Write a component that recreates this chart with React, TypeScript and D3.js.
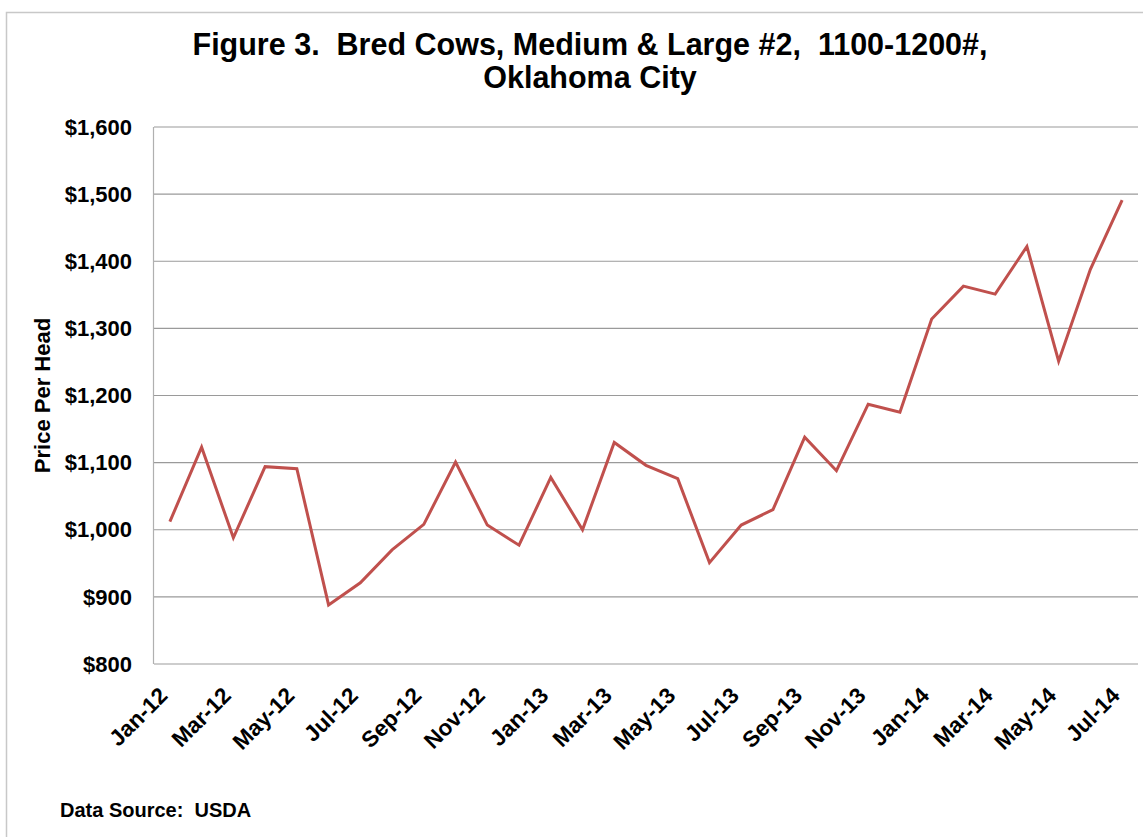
import React from "react";
import * as d3 from "d3";

const months: string[] = [
  "Jan-12", "Feb-12", "Mar-12", "Apr-12", "May-12", "Jun-12", "Jul-12", "Aug-12", "Sep-12", "Oct-12", "Nov-12", "Dec-12",
  "Jan-13", "Feb-13", "Mar-13", "Apr-13", "May-13", "Jun-13", "Jul-13", "Aug-13", "Sep-13", "Oct-13", "Nov-13", "Dec-13",
  "Jan-14", "Feb-14", "Mar-14", "Apr-14", "May-14", "Jun-14", "Jul-14",
];

const prices: number[] = [
  1012, 1123, 988, 1094, 1091, 888, 921, 970, 1008, 1101, 1007, 977,
  1078, 1000, 1130, 1096, 1076, 951, 1007, 1030, 1138, 1088, 1187, 1175,
  1314, 1363, 1351, 1422, 1251, 1388, 1491,
];

const xTickLabels: string[] = [
  "Jan-12", "Mar-12", "May-12", "Jul-12", "Sep-12", "Nov-12", "Jan-13", "Mar-13",
  "May-13", "Jul-13", "Sep-13", "Nov-13", "Jan-14", "Mar-14", "May-14", "Jul-14",
];

const yTicks: number[] = [800, 900, 1000, 1100, 1200, 1300, 1400, 1500, 1600];

const titleLines: string[] = [
  "Figure 3.  Bred Cows, Medium & Large #2,  1100-1200#,",
  "Oklahoma City",
];
const yAxisTitle = "Price Per Head";
const sourceNote = "Data Source:  USDA";

const W = 1143;
const H = 837;
const plot = { left: 154, right: 1138, top: 127, bottom: 664 };
const FONT = "Arial, 'Liberation Sans', Helvetica, sans-serif";

export default function App() {
  const x = d3.scaleBand<string>().domain(months).range([plot.left, plot.right]);
  const y = d3.scaleLinear().domain([800, 1600]).range([plot.bottom, plot.top]);
  const cx = (m: string) => (x(m) as number) + x.bandwidth() / 2;
  const fmt = (v: number) => "$" + d3.format(",")(v);

  const line = d3
    .line<number>()
    .x((_, i) => cx(months[i]))
    .y((d) => y(d));

  return (
    <svg
      width={W}
      height={H}
      style={{ position: "absolute", left: 0, top: 0, background: "#fff" }}
      fontFamily={FONT}
    >
      <rect x={0} y={0} width={W} height={H} fill="#fff" />
      <rect x={6.5} y={12.5} width={1300} height={1000} fill="none" stroke="#c8c8c8" strokeWidth={1.5} />

      {titleLines.map((t, i) => (
        <text
          key={i}
          x={590}
          y={55 + i * 33}
          textAnchor="middle"
          fontSize={30.5}
          fontWeight="bold"
          style={{ whiteSpace: "pre" }}
        >
          {t}
        </text>
      ))}

      {yTicks.map((v) => (
        <g key={v}>
          {v !== 800 && (
            <line x1={plot.left} x2={plot.right} y1={y(v)} y2={y(v)} stroke="#9a9a9a" strokeWidth={1.2} />
          )}
          <text
            x={132}
            y={y(v)}
            dy="0.35em"
            textAnchor="end"
            fontSize={22}
            fontWeight="bold"
          >
            {fmt(v)}
          </text>
        </g>
      ))}

      <line x1={plot.left - 0.5} x2={plot.left - 0.5} y1={plot.top} y2={plot.bottom} stroke="#b0b0b0" strokeWidth={1.2} />
      <line x1={plot.left} x2={plot.right} y1={plot.bottom} y2={plot.bottom} stroke="#bdbdbd" strokeWidth={1.5} />

      <path d={line(prices) || ""} fill="none" stroke="#C0504D" strokeWidth={3} strokeLinejoin="miter" />

      {xTickLabels.map((m) => (
        <text
          key={m}
          transform={`translate(${cx(m) - 1},${plot.bottom + 33}) rotate(-45)`}
          textAnchor="end"
          fontSize={22.5}
          fontWeight="bold"
        >
          {m}
        </text>
      ))}

      <text
        transform={`translate(42,${(plot.top + plot.bottom) / 2}) rotate(-90)`}
        textAnchor="middle"
        dy="0.35em"
        fontSize={22}
        fontWeight="bold"
      >
        {yAxisTitle}
      </text>

      <text x={60} y={817} fontSize={20} fontWeight="bold" style={{ whiteSpace: "pre" }}>
        {sourceNote}
      </text>
    </svg>
  );
}
